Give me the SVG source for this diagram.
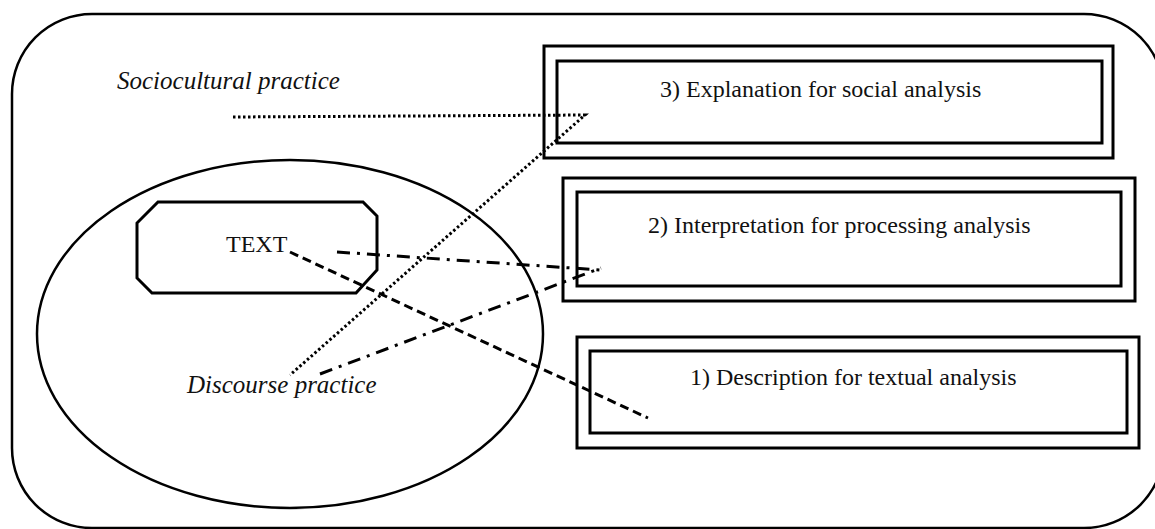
<svg xmlns="http://www.w3.org/2000/svg" width="1155" height="529" viewBox="0 0 1155 529">
  <style>
    .frame { fill: none; stroke: #000; stroke-width: 2.5; }
    .box { fill: none; stroke: #000; stroke-width: 3; }
    .label { font-family: "Liberation Serif", "Times New Roman", serif; font-size: 24px; fill: #111; }
    .ital { font-style: italic; font-size: 25px; }
    .dotted { fill: none; stroke: #000; stroke-width: 3; stroke-dasharray: 2.5 2.5; }
    .dashed { fill: none; stroke: #000; stroke-width: 3; stroke-dasharray: 9 5; }
    .dashdot { fill: none; stroke: #000; stroke-width: 3; stroke-dasharray: 13 7 3 7; }
  </style>
  <rect width="1155" height="529" fill="#fff"/>

  <!-- sociocultural practice frame -->
  <g id="sociocultural">
    <rect class="frame" x="12" y="14" width="1152" height="514" rx="80" ry="80"/>
    <text class="label ital" x="117" y="89">Sociocultural practice</text>
  </g>

  <!-- discourse practice ellipse -->
  <g id="discourse">
    <ellipse class="frame" cx="290" cy="334" rx="253" ry="174"/>
    <text class="label ital" x="187" y="393">Discourse practice</text>
  </g>

  <!-- text octagon -->
  <g id="text">
    <polygon class="box" points="158,202 363,202 377,216 377,270 356,293 152,293 137,278 137,223"/>
    <text class="label" x="226" y="252">TEXT</text>
  </g>

  <!-- analysis levels -->
  <g id="explanation">
    <rect class="box" x="544" y="46" width="569" height="112"/>
    <rect class="box" x="557" y="61" width="545" height="82"/>
    <text class="label" x="660" y="97">3) Explanation for social analysis</text>
  </g>
  <g id="interpretation">
    <rect class="box" x="563" y="178" width="572" height="123"/>
    <rect class="box" x="577" y="192" width="544" height="94"/>
    <text class="label" x="648" y="233">2) Interpretation for processing analysis</text>
  </g>
  <g id="description">
    <rect class="box" x="577" y="337" width="562" height="111"/>
    <rect class="box" x="590" y="351" width="537" height="82"/>
    <text class="label" x="690" y="385">1) Description for textual analysis</text>
  </g>

  <!-- connectors -->
  <g id="connectors">
    <polyline class="dotted" points="233,117 585,115 290,375"/>
    <line class="dashdot" x1="337" y1="252" x2="601" y2="270"/>
    <line class="dashdot" x1="320" y1="374" x2="601" y2="268"/>
    <line class="dashed" x1="290" y1="252" x2="648" y2="418"/>
  </g>
</svg>
